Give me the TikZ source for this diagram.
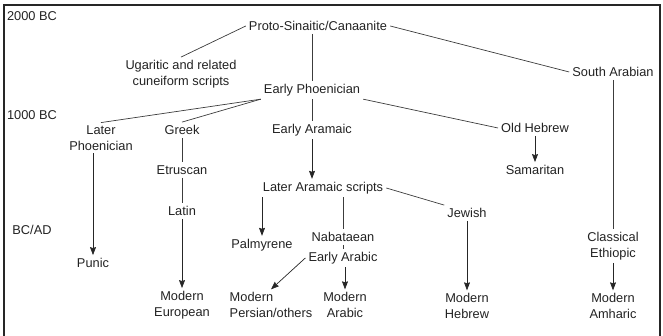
\documentclass[tikz,border=0pt]{standalone}
\usepackage{fontspec}
\setmainfont{Liberation Sans}
\usetikzlibrary{arrows.meta, calc}
\definecolor{inkgray}{RGB}{34, 34, 34}
\definecolor{linegray}{RGB}{60, 60, 60}
\tikzstyle{script} = [text=inkgray, font=\fontsize{12.8}{15.5}\selectfont, align=center, inner sep=3pt]
\tikzstyle{era} = [text=inkgray, font=\fontsize{12.8}{15.5}\selectfont, inner sep=0pt]
\tikzstyle{link} = [linegray, line width=0.7pt]
\tikzstyle{arrow} = [-{Stealth[length=8pt, width=6pt, inset=1pt]}, line width=0.7pt, black!85]

\begin{document}
\begin{tikzpicture}[x=1pt, y=-1pt]

% Frame
\useasboundingbox (0,0) rectangle (663,336);
\draw[black!85, line width=2pt] (4,340) -- (4,5) -- (660,5) -- (660,340);

% Time labels
\node[era] (bc2000) at (32,16) {2000 BC};
\node[era] (bc1000) at (32,115) {1000 BC};
\node[era] (bcad) at (32,230) {BC/AD};

% Top levels
\node[script] (proto) at (318,26) {Proto-Sinaitic/Canaanite};
\node[script] (ugar) at (181,74) {Ugaritic and related\\cuneiform scripts};
\node[script] (ephoen) at (312,90) {Early Phoenician};
\node[script] (sarab) at (613,72) {South Arabian};

% 1000 BC level
\node[script] (lphoen) at (101,138) {Later\\Phoenician};
\node[script] (greek) at (182,130) {Greek};
\node[script] (earam) at (312,130) {Early Aramaic};
\node[script] (ohebrew) at (535,128) {Old Hebrew};
\node[script] (samar) at (535,170) {Samaritan};
\node[script] (etrus) at (182,170) {Etruscan};
\node[script] (latin) at (182,211) {Latin};
\node[script] (laram) at (323,188) {Later Aramaic scripts};

% BC/AD level
\node[script] (punic) at (93,263) {Punic};
\node[script] (palm) at (262,245) {Palmyrene};
\node[script] (nabat) at (343,237) {Nabataean};
\node[script] (earab) at (343,258) {Early Arabic};
\node[script] (jewish) at (467,213) {Jewish};
\node[script] (ethiop) at (613,246) {Classical\\Ethiopic};

% Modern scripts
\node[script] (meuro) at (182,305) {Modern\\European};
\node[script, align=left] (mpers) at (271,305) {Modern\\Persian/others};
\node[script] (marab) at (345,305) {Modern\\Arabic};
\node[script] (mhebrew) at (467,306) {Modern\\Hebrew};
\node[script] (mamharic) at (613,306) {Modern\\Amharic};

% Connectors
\draw[link] (proto.west) -- (ugar.north);
\draw[link] (proto.east) -- (sarab.west);
\draw[link] (ephoen.north |- proto.south) -- (ephoen.north);
\draw[link] (ephoen.south west) -- (lphoen.north);
\draw[link] (ephoen.south west) -- (greek.north);
\draw[link] (ephoen.south east) -- (ohebrew.west);
\draw[link] (ephoen) -- (earam);
\draw[link] (greek) -- (etrus);
\draw[link] (etrus) -- (latin);
\draw[link] (laram.south -| nabat) -- (nabat);
\draw[link] (nabat) -- (earab);
\draw[link] (laram.east) -- (jewish.north west);
\draw[link] (sarab) -- (ethiop);

\draw[arrow] (ohebrew) -- (samar);
\draw[arrow] (lphoen.south -| punic) -- (punic);
\draw[arrow] (latin) -- (meuro);
\draw[arrow] (earam) -- (earam |- laram.north);
\draw[arrow] (laram.south -| palm) -- (palm);
\draw[arrow] (earab.west) -- (mpers.north);
\draw[arrow] (earab.south -| marab) -- (marab);
\draw[arrow] (jewish) -- (mhebrew);
\draw[arrow] (ethiop) -- (mamharic);

\end{tikzpicture}
\end{document}
